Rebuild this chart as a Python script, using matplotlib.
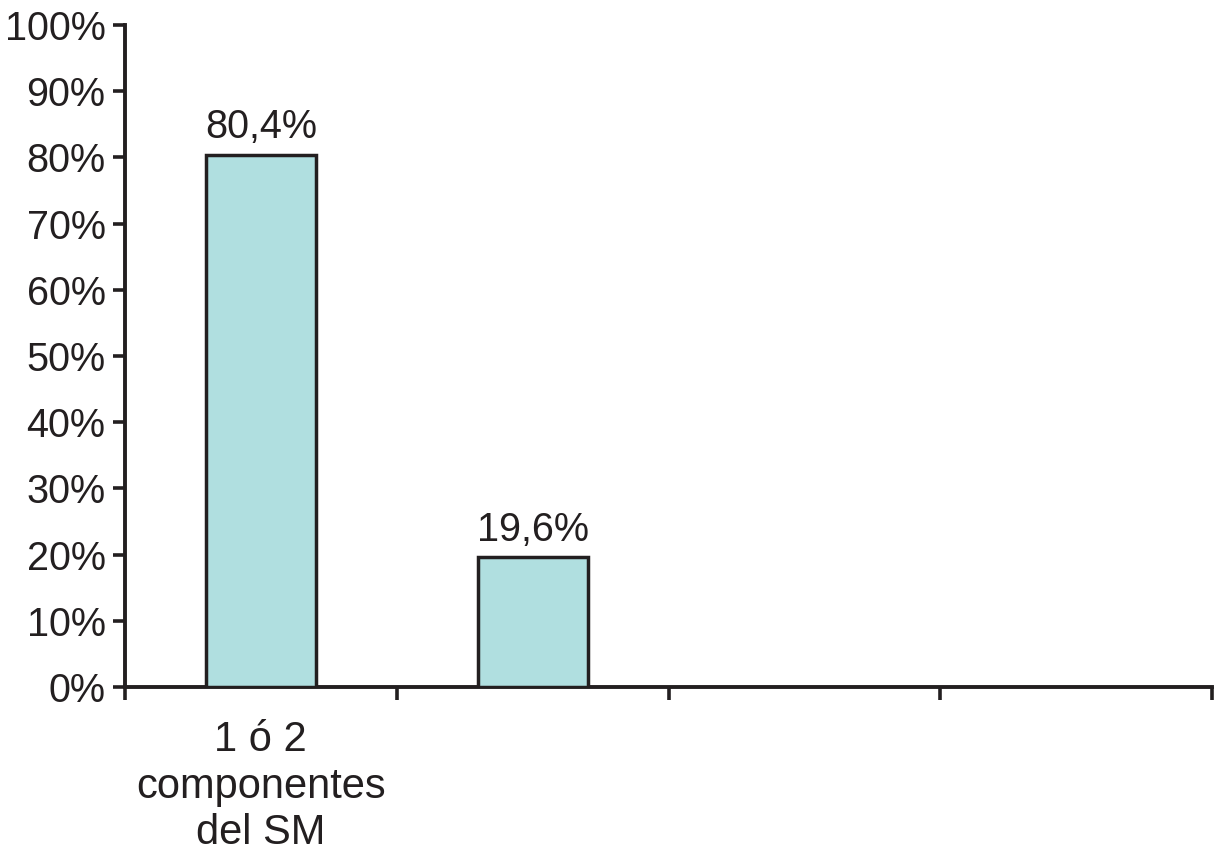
import matplotlib
matplotlib.use("Agg")
import matplotlib.pyplot as plt
from matplotlib.ticker import FixedLocator

categories = ["1 ó 2\ncomponentes\ndel SM", "", "", ""]
values = [80.4, 19.6, None, None]
value_labels = ["80,4%", "19,6%", "", ""]
yticks = [0, 10, 20, 30, 40, 50, 60, 70, 80, 90, 100]
ytick_labels = [f"{v}%" for v in yticks]

plt.rcParams['font.family'] = ['Liberation Sans', 'DejaVu Sans']
ink = "#231f20"
fs = 28.5

fig = plt.figure(figsize=(12.14, 8.66), dpi=100)
ax = fig.add_axes([125/1214, 1 - 687/866, (1212-125)/1214, (687-25)/866])

xs = list(range(len(categories)))
bx = [x for x, v in zip(xs, values) if v is not None]
bv = [v for v in values if v is not None]
bars = ax.bar(bx, bv, width=0.405, color="#b0dfe0", edgecolor=ink, linewidth=2.5, zorder=3)
for b, lab in zip(bars, value_labels):
    ax.annotate(lab, (b.get_x() + b.get_width()/2, b.get_height()),
                xytext=(0, 6), textcoords="offset points",
                ha="center", va="bottom", fontsize=fs, color=ink)

ax.set_xlim(-0.5, len(categories) - 0.5)
ax.set_ylim(0, 100)
ax.set_yticks(yticks)
ax.set_yticklabels(ytick_labels, fontsize=fs, color=ink)
ax.set_xticks(xs)
ax.set_xticklabels(categories, fontsize=30, color=ink, linespacing=1.2)
ax.xaxis.set_minor_locator(FixedLocator([x - 0.5 for x in xs] + [len(xs) - 0.5]))
ax.tick_params(axis="x", which="major", length=0, pad=24)
ax.tick_params(axis="x", which="minor", length=9, width=2.6, color=ink, direction="out")
ax.tick_params(axis="y", length=9, width=2.6, color=ink, direction="out", pad=5)

for s in ["top", "right"]:
    ax.spines[s].set_visible(False)
for s in ["left", "bottom"]:
    ax.spines[s].set_linewidth(2.8)
    ax.spines[s].set_color(ink)

fig.savefig("out.png", dpi=100, facecolor="white")
